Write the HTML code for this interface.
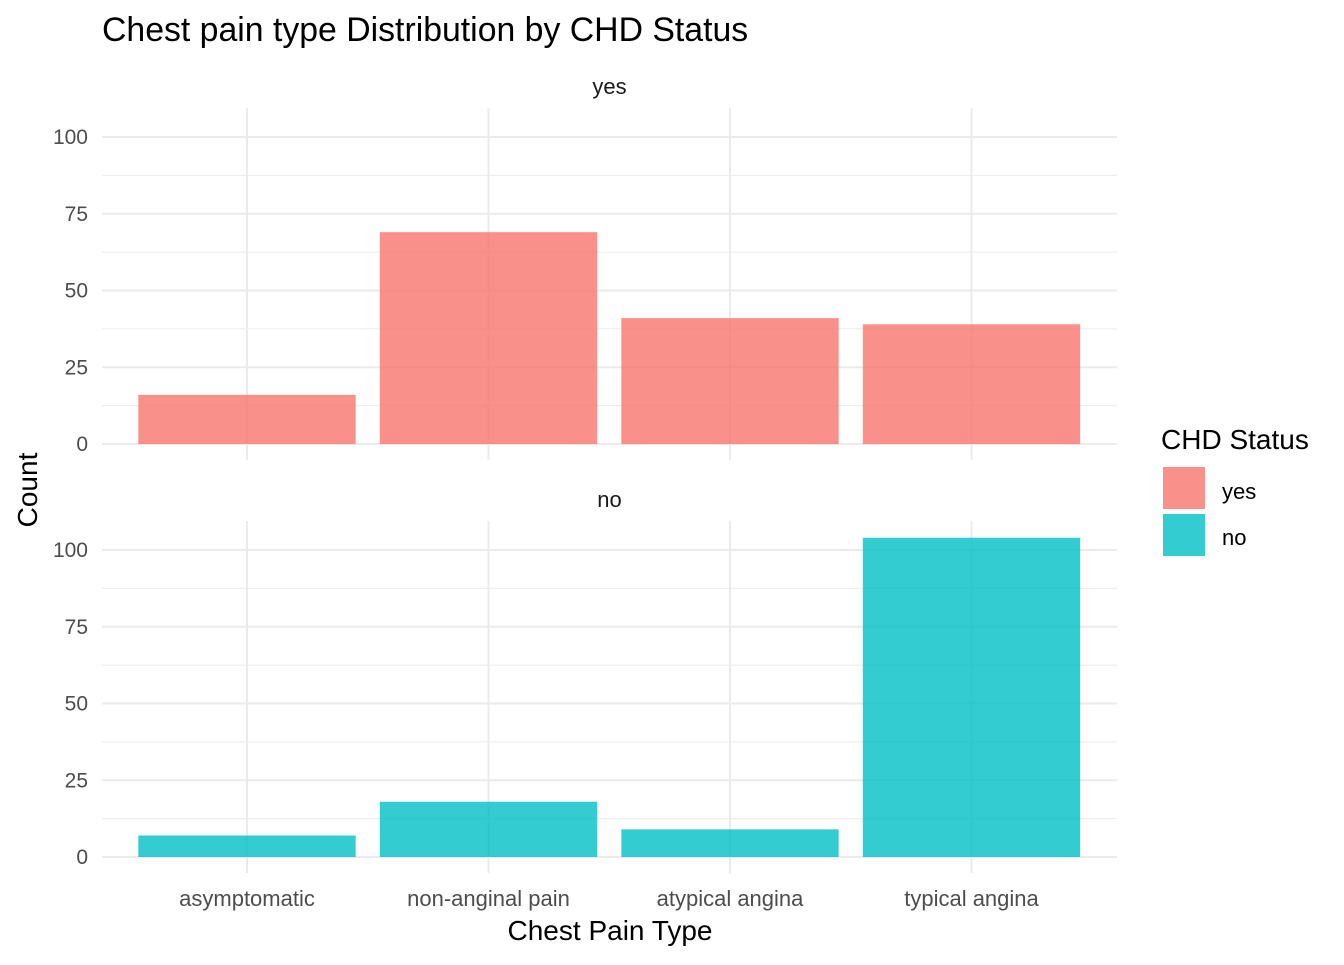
<!DOCTYPE html>
<html><head><meta charset="utf-8"><style>
body{margin:0;background:#fff;font-family:"Liberation Sans",Arial,sans-serif}
svg text{font-family:"Liberation Sans",Arial,sans-serif}
</style></head><body>
<svg id="chart" width="1344" height="960" xmlns="http://www.w3.org/2000/svg">
<text x="102" y="41" font-size="33.8" fill="#000">Chest pain type Distribution by CHD Status</text>
<text x="610" y="940" font-size="28" text-anchor="middle" fill="#000">Chest Pain Type</text>
<text transform="translate(37,490) rotate(-90)" font-size="28" text-anchor="middle" fill="#000">Count</text>
<g id="panels"></g>
<g>
<text x="1161" y="449" font-size="28" fill="#000">CHD Status</text>
<rect x="1163" y="467" width="42" height="42" fill="#F8766D" fill-opacity="0.8"/>
<text x="1222" y="499" font-size="22" fill="#000">yes</text>
<rect x="1163" y="514" width="42" height="42" fill="#00BFC4" fill-opacity="0.8"/>
<text x="1222" y="545" font-size="22" fill="#000">no</text>
</g>
</svg>
<script>
const categories=["asymptomatic","non-anginal pain","atypical angina","typical angina"];
const yesValues=[16,69,41,39];
const noValues=[7,18,9,104];
const yTicks=[0,25,50,75,100];
const facetLabels=["yes","no"];

const NS="http://www.w3.org/2000/svg";
const g=document.getElementById("panels");
function mk(tag,attrs,parent){const e=document.createElementNS(NS,tag);for(const k in attrs)e.setAttribute(k,attrs[k]);(parent||g).appendChild(e);return e;}
const left=102,right=1117;
const step=241.5;
const xC=i=>247+step*i;
const barW=step*0.9;
const unit=3.07;
const panels=[{zero:444,top:108,bottom:460,vals:yesValues,color:"#F8766D",label:facetLabels[0]},
              {zero:857,top:521,bottom:873,vals:noValues,color:"#00BFC4",label:facetLabels[1]}];
panels.forEach((p,pi)=>{
  const y=v=>p.zero-v*unit;
  for(let v=12.5;v<110;v+=25){const l=mk("line",{x1:left,x2:right,y1:y(v),y2:y(v),stroke:"#ebebeb","stroke-width":1});
    }
  yTicks.forEach(t=>{const l=mk("line",{x1:left,x2:right,y1:y(t),y2:y(t),stroke:"#ebebeb","stroke-width":2});
    
    const tx=mk("text",{x:88,y:y(t)+7,"font-size":21,"text-anchor":"end",fill:"#4d4d4d"});tx.textContent=t;
    });
  categories.forEach((c,i)=>{const l=mk("line",{x1:xC(i),x2:xC(i),y1:p.top,y2:p.bottom,stroke:"#ebebeb","stroke-width":2});
    });
  p.vals.forEach((v,i)=>{const r=mk("rect",{x:xC(i)-barW/2,y:y(v),width:barW,height:v*unit,fill:p.color,"fill-opacity":0.8});
    });
  const s=mk("text",{x:(left+right)/2,y:p.top-14,"font-size":22,"text-anchor":"middle",fill:"#1a1a1a"});s.textContent=p.label;
  
});
categories.forEach((c,i)=>{const t=mk("text",{x:xC(i),y:906,"font-size":22,"text-anchor":"middle",fill:"#4d4d4d"});t.textContent=c;
  });
</script>
</body></html>
